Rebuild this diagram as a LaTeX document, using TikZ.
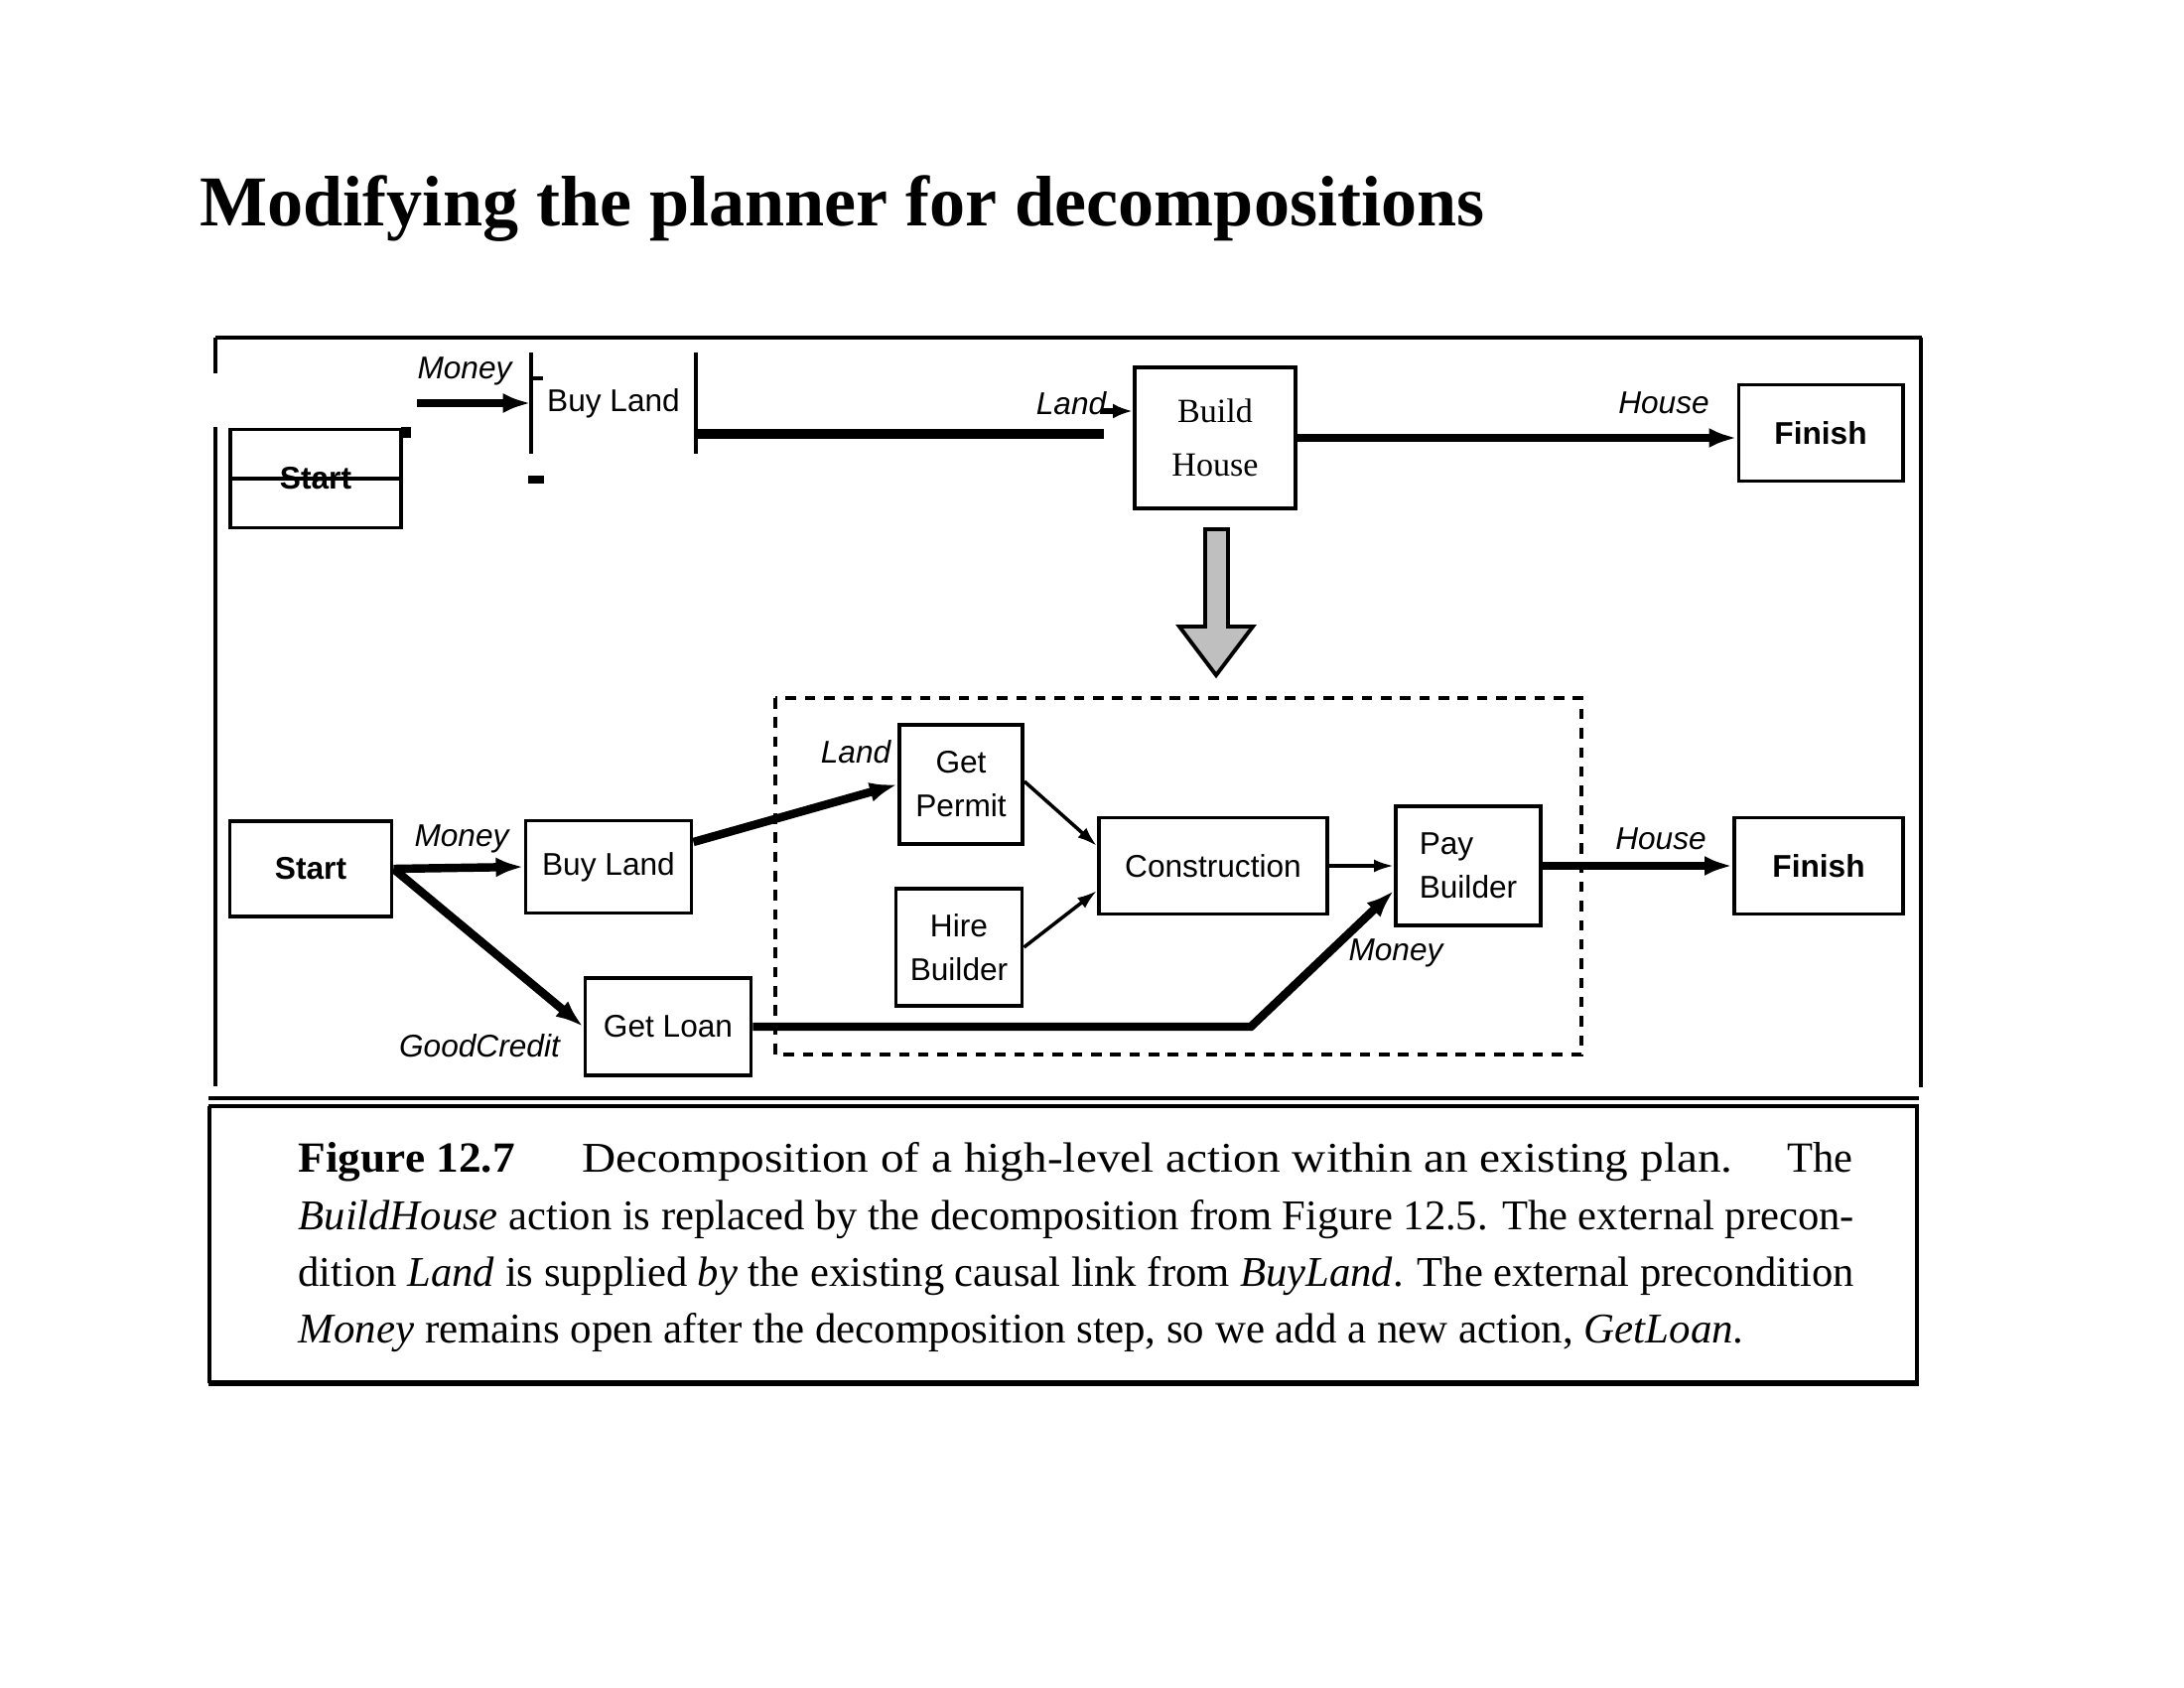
\documentclass[tikz,border=0pt]{standalone}
\usepackage{fontspec}
\usepackage{graphicx}
\setmainfont{Liberation Serif}
\setsansfont{Liberation Sans}
\usetikzlibrary{arrows.meta,calc}
\begin{document}
\begin{tikzpicture}[x=0.01cm,y=-0.01cm,
  box/.style={draw, line width=1.1pt, rectangle, inner sep=0pt, align=center,
    font=\sffamily\fontsize{9}{12.5}\selectfont},
  boldbox/.style={box, font=\sffamily\bfseries\fontsize{9}{12.5}\selectfont},
  lab/.style={inner sep=0pt, font=\sffamily\itshape\fontsize{9}{11}\selectfont},
  bigarrow/.style={line width=2.4pt, -{Latex[length=0.28cm,width=0.2cm]}},
  thinarrow/.style={line width=1pt, -{Latex[length=0.2cm,width=0.13cm]}},
  capline/.style={anchor=base west, inner sep=0pt, font=\fontsize{13}{15}\selectfont},
  frameline/.style={line width=1pt}]
\fill[white] (0,0) rectangle (2200,1700);
\useasboundingbox (0,0) rectangle (2200,1700);

% title
\node[anchor=base west, inner sep=0pt, font=\bfseries\fontsize{20.5}{24}\selectfont] (title) at (201,228) {Modifying the planner for decompositions};

% frame
\draw[frameline, line width=1.3pt] (217,340) -- (1936,340);
\draw[frameline] (217,340) -- (217,376);
\draw[frameline] (217,430) -- (217,1094);
\draw[frameline] (1935,340) -- (1935,1095);

% caption box
\draw[frameline] (210,1106) -- (1933,1106);
\draw[frameline] (210,1114) -- (1933,1114);
\draw[frameline] (211,1114) -- (211,1393);
\draw[frameline] (1931,1114) -- (1931,1393);
\draw[line width=1.8pt] (210,1393) -- (1933,1393);

% ---------- top plan ----------
\node[boldbox, minimum width=1.72cm, minimum height=0.99cm] (s1) at (318,482) {Start};
\draw[line width=1.1pt] (s1.west) -- (s1.east);
\fill (404,430) rectangle (414,441);

\node[lab] (m1) at (468,374) {Money};
\node[inner sep=0pt, minimum width=1.65cm, minimum height=1cm,
  font=\sffamily\fontsize{9}{12.5}\selectfont] (bl1) at (618,406) {Buy Land};
\draw[line width=1.1pt] (bl1.north west) -- (bl1.south west);
\draw[line width=1.1pt] (bl1.north east) -- (bl1.south east);
\draw[line width=1.1pt] ([yshift=-0.26cm]bl1.north west) -- ++(12,0);
\coordinate (mt) at (420,406);
\draw[bigarrow] (mt) -- (bl1.west);
\draw[line width=2pt] (532,483) -- (548,483);

\coordinate (lt) at (1112,437);
\draw[line width=2.6pt] (bl1.east |- lt) -- (lt);
\node[lab] (land1) at (1079,406) {Land};

\node[box, font=\rmfamily\fontsize{9.7}{15.5}\selectfont, minimum width=1.62cm, minimum height=1.42cm] (bh) at (1224,441) {Build\\House};
\coordinate (la) at (1110,414);
\draw[line width=1.6pt, -{Latex[length=0.2cm,width=0.15cm]}] (la) -- (la -| bh.west);

\node[boldbox, minimum width=1.65cm, minimum height=0.97cm] (f1) at (1834,436) {Finish};
\draw[bigarrow] (bh.east) -- (bh.east -| f1.west);
\node[lab] (h1) at (1676,406) {House};

% decomposition arrow
\draw[line width=1.1pt, fill=gray!50] (1214,533) -- (1237,533) -- (1237,631) -- (1262,631)
  -- (1225,680) -- (1188,631) -- (1214,631) -- cycle;

% ---------- bottom plan ----------
\draw[line width=1.1pt, dash pattern=on 3pt off 2.5pt] (781,703) rectangle (1593,1062);

\node[boldbox, minimum width=1.63cm, minimum height=0.96cm] (s2) at (313,875) {Start};
\node[box, minimum width=1.67cm, minimum height=0.93cm] (bl2) at (613,873) {Buy Land};
\node[box, minimum width=1.24cm, minimum height=1.2cm] (gp) at (968,790) {Get\\Permit};
\node[box, minimum width=1.27cm, minimum height=1.18cm] (hb) at (966,954) {Hire\\Builder};
\node[box, minimum width=1.67cm, minimum height=0.98cm] (gl) at (673,1034) {Get Loan};
\node[box, minimum width=2.3cm, minimum height=0.97cm] (con) at (1222,872) {Construction};
\node[box, align=left, minimum width=1.46cm, minimum height=1.2cm] (pb) at (1479,872) {Pay\\Builder};
\node[boldbox, minimum width=1.7cm, minimum height=0.97cm] (f2) at (1832,872) {Finish};

\draw[bigarrow] (s2.east) -- (bl2.west);
\node[lab] (m2) at (465,845) {Money};
\draw[bigarrow] (s2.east) -- (gl.west);
\node[lab] (gc) at (483,1053) {GoodCredit};
\draw[bigarrow] ([yshift=0.25cm]bl2.east) -- (gp.west);
\node[lab] (land2) at (862,757) {Land};
\draw[thinarrow] ([yshift=0.03cm]gp.east) -- ([yshift=0.2cm]con.west);
\draw[thinarrow] (hb.east) -- ([yshift=-0.25cm]con.west);
\draw[thinarrow] (con.east) -- (pb.west);
\coordinate (bend) at (1260,1034);
\draw[bigarrow] (gl.east) -- (bend) -- ([yshift=-0.25cm]pb.west);
\node[lab] (m3) at (1406,960) {Money};
\draw[bigarrow] (pb.east) -- (f2.west);
\node[lab] (h2) at (1673,845) {House};

% ---------- caption ----------
\node[capline] (c1a) at (300,1180) {\resizebox{2.18cm}{0.30cm}{\bfseries Figure 12.7}};
\node[capline] (c1b) at (586,1180) {\resizebox{11.58cm}{0.30cm}{Decomposition of a high-level action within an existing plan.}};
\node[capline] (c1c) at (1800,1180) {\resizebox{0.66cm}{0.30cm}{The}};
\node[capline] (c2) at (300,1238) {\resizebox{15.66cm}{0.30cm}{\textit{BuildHouse} action is replaced by the decomposition from Figure 12.5. The external precon-}};
\node[capline] (c3) at (300,1295) {\resizebox{15.66cm}{0.30cm}{dition \textit{Land} is supplied \textit{by} the existing causal link from \textit{BuyLand}. The external precondition}};
\node[capline] (c4) at (300,1352) {\resizebox{14.55cm}{0.30cm}{\textit{Money} remains open after the decomposition step, so we add a new action, \textit{GetLoan}.}};
\end{tikzpicture}
\end{document}
